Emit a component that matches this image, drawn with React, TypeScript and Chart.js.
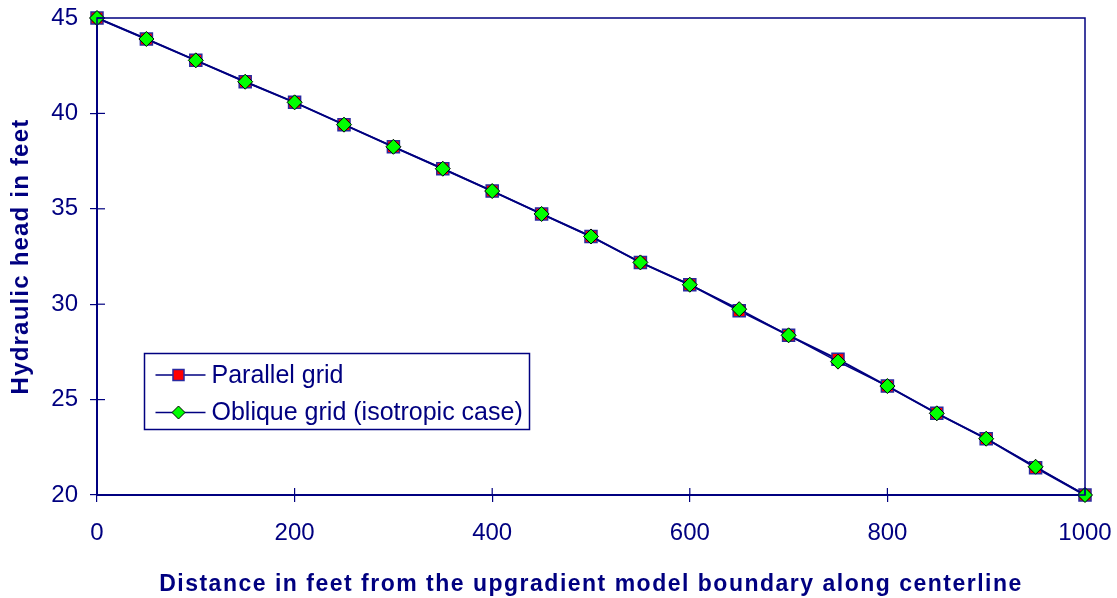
import React, { useEffect, useRef } from "react";
import { Chart, registerables } from "chart.js";

Chart.register(...registerables);

const distances = [0, 50, 100, 150, 200, 250, 300, 350, 400, 450, 500, 550, 600, 650, 700, 750, 800, 850, 900, 950, 1000];
const parallelGrid = [45, 43.9, 42.78, 41.66, 40.58, 39.41, 38.25, 37.1, 35.93, 34.73, 33.55, 32.19, 31.02, 29.66, 28.37, 27.11, 25.71, 24.28, 22.95, 21.43, 20];
const obliqueGrid = [45, 43.9, 42.78, 41.66, 40.58, 39.41, 38.25, 37.1, 35.93, 34.73, 33.55, 32.19, 31.02, 29.74, 28.37, 26.99, 25.71, 24.28, 22.95, 21.48, 20];
const seriesLabels = ["Parallel grid", "Oblique grid (isotropic case)"];
const xTitle = "Distance in feet from the upgradient model boundary along centerline";
const yTitle = "Hydraulic head in feet";

const NAVY = "#000080";
const FONT = "'Liberation Sans', Arial, sans-serif";

const framePlugin = {
  id: "frame",
  afterDraw(chart: any) {
    const { ctx, chartArea } = chart;
    const { left, right, top, bottom } = chartArea;
    ctx.save();
    ctx.strokeStyle = NAVY;
    ctx.lineWidth = 1.5;
    ctx.strokeRect(left, top, right - left, bottom - top);
    ctx.lineWidth = 1.2;
    const xs = chart.scales.x;
    const ys = chart.scales.y;
    xs.ticks.forEach((t: any) => {
      const px = xs.getPixelForValue(t.value);
      ctx.beginPath();
      ctx.moveTo(px, bottom);
      ctx.lineTo(px, bottom - 7);
      ctx.stroke();
    });
    ys.ticks.forEach((t: any) => {
      const py = ys.getPixelForValue(t.value);
      ctx.beginPath();
      ctx.moveTo(left, py);
      ctx.lineTo(left + 8, py);
      ctx.stroke();
    });
    ctx.fillStyle = NAVY;
    ctx.font = `bold 23px ${FONT}`;
    (ctx as any).letterSpacing = "1.5px";
    ctx.textAlign = "center";
    ctx.textBaseline = "alphabetic";
    ctx.fillText(xTitle, (left + right) / 2, 590.5);
    ctx.font = `bold 24px ${FONT}`;
    (ctx as any).letterSpacing = "1.2px";
    ctx.translate(28, (top + bottom) / 2);
    ctx.rotate(-Math.PI / 2);
    ctx.fillText(yTitle, 0, 0);
    ctx.restore();

    // legend
    ctx.save();
    (ctx as any).letterSpacing = "0px";
    const lx = 144.5;
    const ly = 353.5;
    const lw = 385;
    const lh = 76;
    ctx.fillStyle = "#ffffff";
    ctx.fillRect(lx, ly, lw, lh);
    ctx.strokeStyle = NAVY;
    ctx.lineWidth = 1.5;
    ctx.strokeRect(lx, ly, lw, lh);
    const rows = [ly + 21.5, ly + 59];
    rows.forEach((ry, i) => {
      ctx.strokeStyle = NAVY;
      ctx.lineWidth = 1.5;
      ctx.beginPath();
      ctx.moveTo(lx + 11, ry);
      ctx.lineTo(lx + 61, ry);
      ctx.stroke();
      const cx = lx + 34;
      if (i === 0) {
        ctx.fillStyle = "#ff0000";
        ctx.fillRect(cx - 5.5, ry - 5.5, 11, 11);
        ctx.strokeStyle = "#2a2aa0";
        ctx.lineWidth = 1.5;
        ctx.strokeRect(cx - 5.5, ry - 5.5, 11, 11);
      } else {
        ctx.beginPath();
        ctx.moveTo(cx - 6.5, ry);
        ctx.lineTo(cx, ry - 6.5);
        ctx.lineTo(cx + 6.5, ry);
        ctx.lineTo(cx, ry + 6.5);
        ctx.closePath();
        ctx.fillStyle = "#00ff00";
        ctx.fill();
        ctx.strokeStyle = "#000000";
        ctx.lineWidth = 1;
        ctx.stroke();
      }
      ctx.fillStyle = NAVY;
      ctx.font = `25px ${FONT}`;
      ctx.textAlign = "left";
      ctx.textBaseline = "middle";
      ctx.fillText(seriesLabels[i], lx + 67, ry + 1);
    });
    ctx.restore();
  },
};

const zeroPadding = (s: any) => {
  s.paddingLeft = 0;
  s.paddingRight = 0;
  s.paddingTop = 0;
  s.paddingBottom = 0;
};

export default function App() {
  const canvasRef = useRef<HTMLCanvasElement | null>(null);

  useEffect(() => {
    const canvas = canvasRef.current;
    if (!canvas) return;
    const chart = new Chart(canvas, {
      type: "line",
      data: {
        datasets: [
          {
            label: seriesLabels[0],
            data: distances.map((d, i) => ({ x: d, y: parallelGrid[i] })),
            borderColor: NAVY,
            borderWidth: 2,
            pointStyle: "rect",
            pointRadius: 8.5,
            pointBackgroundColor: "#ff0000",
            pointBorderColor: "#2a2aa0",
            pointBorderWidth: 1.5,
            clip: false,
            order: 2,
          },
          {
            label: seriesLabels[1],
            data: distances.map((d, i) => ({ x: d, y: obliqueGrid[i] })),
            borderColor: NAVY,
            borderWidth: 1.5,
            pointStyle: "rectRot",
            pointRadius: 7.5,
            pointBackgroundColor: "#00ff00",
            pointBorderColor: "#000000",
            pointBorderWidth: 1,
            clip: false,
            order: 1,
          },
        ],
      },
      options: {
        animation: false,
        responsive: false,
        events: [],
        layout: { padding: { top: 18, right: 32, left: 0, bottom: 0 } },
        plugins: {
          legend: { display: false },
          tooltip: { enabled: false },
        },
        scales: {
          x: {
            type: "linear",
            min: 0,
            max: 1000,
            afterFit: (s: any) => {
              s.height = 103;
              zeroPadding(s);
            },
            ticks: {
              stepSize: 200,
              color: NAVY,
              padding: 17,
              font: { family: FONT, size: 24 },
              maxRotation: 0,
              callback: (v: any) => String(v),
            },
            grid: {
              drawOnChartArea: false,
              drawTicks: true,
              tickLength: 7,
              color: NAVY,
              lineWidth: 1.2,
            },
            border: { display: true, color: NAVY, width: 2 },
          },
          y: {
            type: "linear",
            min: 20,
            max: 45,
            afterFit: (s: any) => {
              s.width = 97;
              zeroPadding(s);
            },
            ticks: {
              stepSize: 5,
              color: NAVY,
              padding: 12,
              font: { family: FONT, size: 24 },
            },
            grid: {
              drawOnChartArea: false,
              drawTicks: true,
              tickLength: 7,
              color: NAVY,
              lineWidth: 1.2,
            },
            border: { display: true, color: NAVY, width: 2 },
          },
        },
      },
      plugins: [framePlugin],
    });
    return () => chart.destroy();
  }, []);

  return (
    <div style={{ position: "fixed", left: 0, top: 0, width: 1117, height: 598, background: "#ffffff" }}>
      <canvas ref={canvasRef} width={1117} height={598} style={{ width: 1117, height: 598, display: "block" }} />
    </div>
  );
}
